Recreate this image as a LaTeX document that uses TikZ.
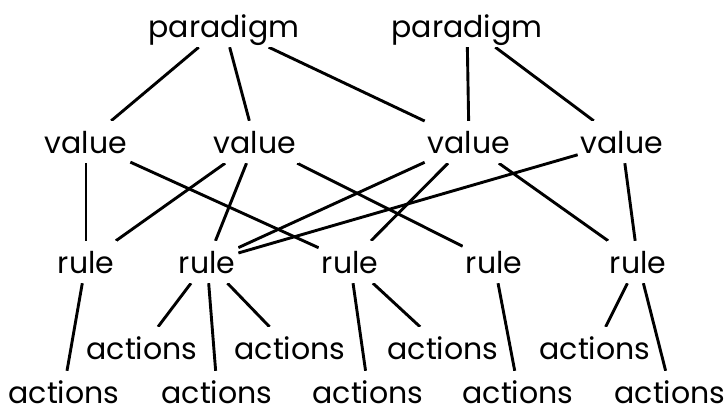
\documentclass[tikz,border=0pt]{standalone}
\usepackage{fontspec}
\setmainfont{Poppins}
\usetikzlibrary{backgrounds}
\begin{document}
\begin{tikzpicture}[x=1pt,y=-1pt,
  lbl/.style={anchor=base, font=\fontsize{30}{34}\selectfont, text height=30pt, text depth=8pt,
    inner xsep=3pt, inner ysep=2pt, fill=white},
  lowlbl/.style={lbl, text depth=0pt},
  link/.style={line width=2.9pt}]
\useasboundingbox (0,0) rectangle (728,408);
\node[lbl] (p1) at (224,37) {paradigm};
\node[lbl] (p2) at (467,37) {paradigm};
\node[lbl] (v1) at (86,153) {value};
\node[lbl] (v2) at (255,153) {value};
\node[lbl] (v3) at (469,153) {value};
\node[lbl] (v4) at (622,153) {value};
\node[lbl] (r1) at (86,273) {rule};
\node[lbl] (r2) at (207,273) {rule};
\node[lbl] (r3) at (350,273) {rule};
\node[lbl] (r4) at (494,273) {rule};
\node[lbl] (r5) at (638,273) {rule};
\node[lbl] (au1) at (142,359) {actions};
\node[lbl] (au2) at (290,359) {actions};
\node[lbl] (au3) at (443,359) {actions};
\node[lbl] (au4) at (595,359) {actions};
\node[lowlbl] (al1) at (64,403) {actions};
\node[lowlbl] (al2) at (217,403) {actions};
\node[lowlbl] (al3) at (368,403) {actions};
\node[lowlbl] (al4) at (518,403) {actions};
\node[lowlbl] (al5) at (670,403) {actions};
\begin{pgfonlayer}{background}
\draw[link] (p1) -- (v1);
\draw[link] (p1) -- (v2);
\draw[link] (p1) -- (v3);
\draw[link] (p2) -- (v3);
\draw[link] (p2) -- (v4);
\draw[link] (v1) -- (r1);
\draw[link] (v1) -- (r3);
\draw[link] (v2) -- (r1);
\draw[link] (v2) -- (r2);
\draw[link] (v2) -- (r4);
\draw[link] (v3) -- (r2);
\draw[link] (v3) -- (r3);
\draw[link] (v3) -- (r5);
\draw[link] (v4) -- (r2);
\draw[link] (v4) -- (r5);
\draw[link] (r1) -- (al1);
\draw[link] (r2) -- (au1);
\draw[link] (r2) -- (al2);
\draw[link] (r2) -- (au2);
\draw[link] (r3) -- (al3);
\draw[link] (r3) -- (au3);
\draw[link] (r4) -- (al4);
\draw[link] (r5) -- (au4);
\draw[link] (r5) -- (al5);
\end{pgfonlayer}
\end{tikzpicture}
\end{document}
